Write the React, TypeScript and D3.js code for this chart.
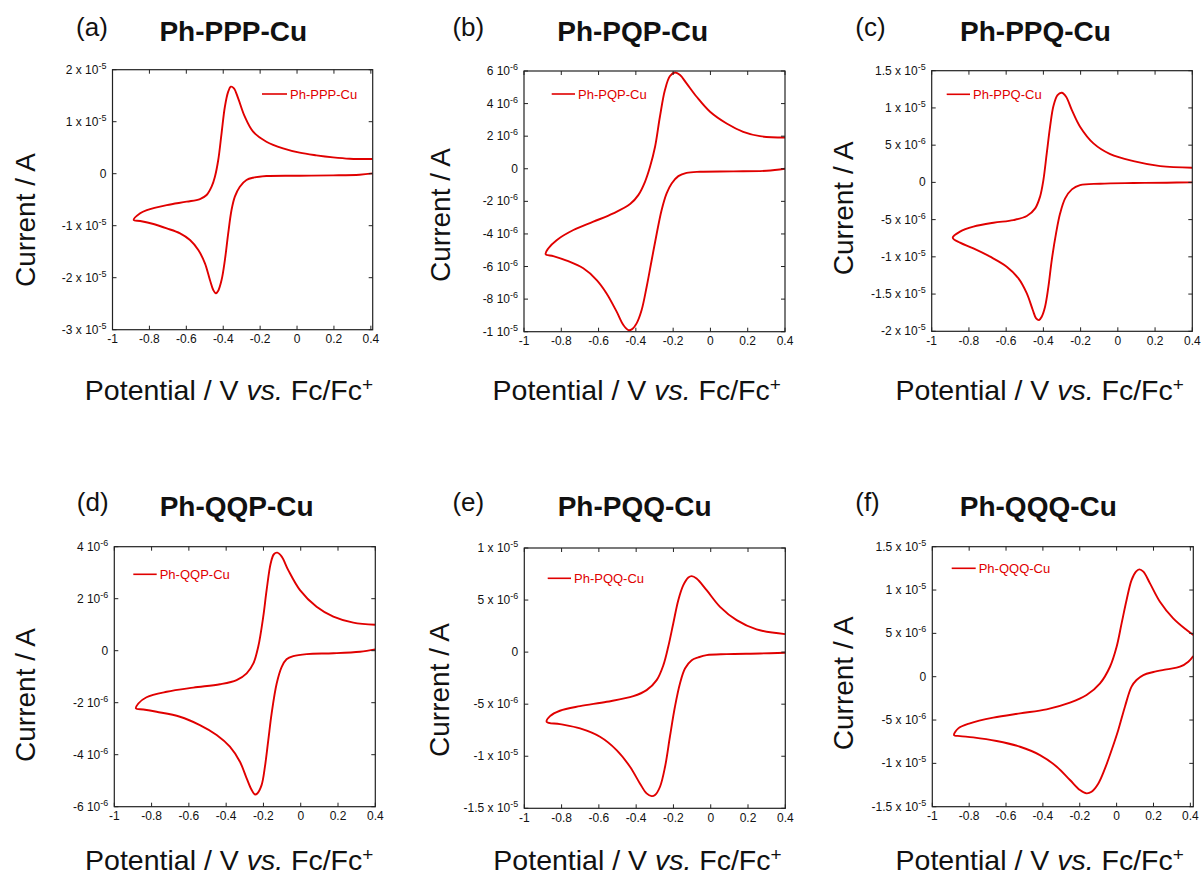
import React from 'react';
import * as d3 from 'd3';

// ---------- shared axis data ----------
const X_TICKS = [-1, -0.8, -0.6, -0.4, -0.2, 0, 0.2, 0.4];
const X_TICK_LABELS = ['-1', '-0.8', '-0.6', '-0.4', '-0.2', '0', '0.2', '0.4'];

// ---------- (a) Ph-PPP-Cu  (current in µA) ----------
const PPP_CATHODIC: [number, number][] = [
  [0.41, 0.06], [0.339, -0.19], [0.195, -0.32], [0.014, -0.38], [-0.166, -0.45], [-0.238, -0.77],
  [-0.274, -1.22], [-0.31, -2.5], [-0.337, -4.42], [-0.355, -6.99], [-0.373, -11.47], [-0.391, -16.6],
  [-0.409, -20.45], [-0.427, -22.5], [-0.44, -23.0], [-0.454, -22.37], [-0.472, -20.45], [-0.499, -17.24],
  [-0.535, -14.68], [-0.58, -12.76], [-0.634, -11.47], [-0.706, -10.51], [-0.778, -9.68], [-0.85, -9.1],
  [-0.885, -8.9],
];
const PPP_ANODIC: [number, number][] = [
  [-0.885, -8.9], [-0.85, -7.6], [-0.814, -6.99], [-0.706, -6.03], [-0.598, -5.38], [-0.526, -4.87],
  [-0.49, -4.1], [-0.463, -2.5], [-0.445, -0.58], [-0.427, 2.63], [-0.409, 7.76], [-0.391, 12.88],
  [-0.373, 15.77], [-0.359, 16.73], [-0.342, 16.41], [-0.319, 14.49], [-0.283, 10.96], [-0.238, 8.08],
  [-0.166, 6.15], [-0.076, 4.87], [0.014, 4.04], [0.105, 3.53], [0.195, 3.14], [0.285, 2.88], [0.41, 2.82],
];
const PPP_Y_TICKS = [20, 10, 0, -10, -20, -30];
const PPP_Y_LABELS: [string, string][] = [
  ['2 x 10', '-5'], ['1 x 10', '-5'], ['0', ''], ['-1 x 10', '-5'], ['-2 x 10', '-5'], ['-3 x 10', '-5'],
];

// ---------- (b) Ph-PQP-Cu ----------
const PQP_CATHODIC: [number, number][] = [
  [0.4, 0], [0.302, -0.12], [0.123, -0.16], [-0.056, -0.18], [-0.128, -0.25], [-0.172, -0.45],
  [-0.208, -0.9], [-0.235, -1.51], [-0.262, -2.54], [-0.288, -3.97], [-0.315, -5.6], [-0.342, -7.24],
  [-0.369, -8.67], [-0.396, -9.49], [-0.422, -9.86], [-0.44, -9.9], [-0.467, -9.59], [-0.503, -8.77],
  [-0.557, -7.65], [-0.61, -6.83], [-0.682, -6.11], [-0.771, -5.64], [-0.843, -5.36], [-0.884, -5.24],
];
const PQP_ANODIC: [number, number][] = [
  [-0.884, -5.24], [-0.87, -4.89], [-0.825, -4.38], [-0.735, -3.76], [-0.628, -3.25], [-0.521, -2.74],
  [-0.431, -2.17], [-0.387, -1.62], [-0.351, -0.8], [-0.324, 0.12], [-0.297, 1.35], [-0.271, 3.19],
  [-0.244, 4.83], [-0.217, 5.69], [-0.19, 5.91], [-0.163, 5.75], [-0.128, 5.24], [-0.074, 4.42],
  [-0.002, 3.5], [0.087, 2.78], [0.176, 2.27], [0.266, 2.0], [0.4, 1.92],
];
const PQP_Y_TICKS = [6, 4, 2, 0, -2, -4, -6, -8, -10];
const PQP_Y_LABELS: [string, string][] = [
  ['6 10', '-6'], ['4 10', '-6'], ['2 10', '-6'], ['0', ''], ['-2 10', '-6'], ['-4 10', '-6'],
  ['-6 10', '-6'], ['-8 10', '-6'], ['-1 10', '-5'],
];

// ---------- (c) Ph-PPQ-Cu ----------
const PPQ_CATHODIC: [number, number][] = [
  [0.4, 0], [0.263, -0.04], [0.084, -0.09], [-0.095, -0.18], [-0.203, -0.36], [-0.247, -0.94],
  [-0.283, -2.15], [-0.31, -4.16], [-0.332, -6.85], [-0.355, -10.43], [-0.373, -14.01], [-0.391, -16.7],
  [-0.409, -18.04], [-0.423, -18.49], [-0.439, -18.26], [-0.457, -17.14], [-0.489, -14.91], [-0.534, -12.89],
  [-0.597, -11.32], [-0.686, -9.98], [-0.776, -8.86], [-0.848, -8.1], [-0.887, -7.43],
];
const PPQ_ANODIC: [number, number][] = [
  [-0.887, -7.43], [-0.848, -6.62], [-0.776, -5.95], [-0.668, -5.42], [-0.561, -5.06], [-0.489, -4.52],
  [-0.444, -3.49], [-0.418, -1.92], [-0.4, 0.31], [-0.382, 3.89], [-0.364, 7.48], [-0.346, 10.25],
  [-0.324, 11.73], [-0.301, 12.04], [-0.278, 11.5], [-0.247, 9.71], [-0.203, 7.48], [-0.131, 5.24],
  [-0.041, 3.8], [0.084, 2.86], [0.228, 2.19], [0.4, 1.97],
];
const PPQ_Y_TICKS = [15, 10, 5, 0, -5, -10, -15, -20];
const PPQ_Y_LABELS: [string, string][] = [
  ['1.5 x 10', '-5'], ['1 x 10', '-5'], ['5 x 10', '-6'], ['0', ''], ['-5 x 10', '-6'],
  ['-1 x 10', '-5'], ['-1.5 x 10', '-5'], ['-2 x 10', '-5'],
];

// ---------- (d) Ph-QQP-Cu ----------
const QQP_CATHODIC: [number, number][] = [
  [0.4, 0.05], [0.318, -0.04], [0.175, -0.1], [0.032, -0.13], [-0.04, -0.21], [-0.076, -0.33],
  [-0.102, -0.62], [-0.129, -1.26], [-0.156, -2.41], [-0.174, -3.44], [-0.192, -4.46], [-0.21, -5.17],
  [-0.233, -5.49], [-0.245, -5.53], [-0.263, -5.36], [-0.29, -4.91], [-0.326, -4.27], [-0.38, -3.69],
  [-0.451, -3.24], [-0.541, -2.86], [-0.648, -2.54], [-0.773, -2.35], [-0.844, -2.26], [-0.884, -2.22],
];
const QQP_ANODIC: [number, number][] = [
  [-0.884, -2.22], [-0.871, -2.03], [-0.827, -1.79], [-0.719, -1.58], [-0.576, -1.42], [-0.433, -1.29],
  [-0.344, -1.13], [-0.29, -0.87], [-0.254, -0.49], [-0.228, 0.15], [-0.201, 1.31], [-0.183, 2.33],
  [-0.161, 3.36], [-0.144, 3.71], [-0.126, 3.77], [-0.102, 3.62], [-0.067, 3.1], [-0.004, 2.33],
  [0.085, 1.69], [0.175, 1.31], [0.282, 1.08], [0.4, 1.0],
];
const QQP_Y_TICKS = [4, 2, 0, -2, -4, -6];
const QQP_Y_LABELS: [string, string][] = [
  ['4 10', '-6'], ['2 10', '-6'], ['0', ''], ['-2 10', '-6'], ['-4 10', '-6'], ['-6 10', '-6'],
];

// ---------- (e) Ph-PQQ-Cu ----------
const PQQ_CATHODIC: [number, number][] = [
  [0.4, -0.06], [0.264, -0.13], [0.085, -0.19], [-0.022, -0.29], [-0.067, -0.51], [-0.102, -0.77],
  [-0.138, -1.57], [-0.165, -3.01], [-0.192, -5.25], [-0.219, -8.13], [-0.245, -11.01], [-0.272, -12.93],
  [-0.299, -13.73], [-0.317, -13.83], [-0.344, -13.57], [-0.38, -12.61], [-0.433, -11.01], [-0.505, -9.41],
  [-0.594, -8.13], [-0.701, -7.33], [-0.809, -6.91], [-0.88, -6.69],
];
const PQQ_ANODIC: [number, number][] = [
  [-0.88, -6.69], [-0.862, -6.15], [-0.809, -5.63], [-0.701, -5.19], [-0.558, -4.77], [-0.415, -4.23],
  [-0.344, -3.65], [-0.29, -2.69], [-0.254, -1.25], [-0.228, 0.51], [-0.201, 2.75], [-0.174, 4.99],
  [-0.147, 6.43], [-0.12, 7.17], [-0.102, 7.3], [-0.076, 7.07], [-0.022, 5.95], [0.05, 4.35],
  [0.139, 3.07], [0.246, 2.18], [0.4, 1.73],
];
const PQQ_Y_TICKS = [10, 5, 0, -5, -10, -15];
const PQQ_Y_LABELS: [string, string][] = [
  ['1 x 10', '-5'], ['5 x 10', '-6'], ['0', ''], ['-5 x 10', '-6'], ['-1 x 10', '-5'], ['-1.5 x 10', '-5'],
];

// ---------- (f) Ph-QQQ-Cu ----------
const QQQ_CATHODIC: [number, number][] = [
  [0.416, 2.38], [0.389, 1.73], [0.344, 1.15], [0.271, 0.85], [0.199, 0.54], [0.145, 0.19],
  [0.108, -0.38], [0.081, -1.15], [0.045, -3.46], [0.009, -6.15], [-0.027, -8.46], [-0.063, -10.58],
  [-0.099, -12.31], [-0.136, -13.27], [-0.163, -13.46], [-0.199, -13.08], [-0.253, -11.92], [-0.325, -10.38],
  [-0.416, -9.04], [-0.524, -8.08], [-0.651, -7.42], [-0.778, -7.0], [-0.85, -6.85], [-0.882, -6.73],
];
const QQQ_ANODIC: [number, number][] = [
  [-0.882, -6.73], [-0.859, -5.96], [-0.796, -5.38], [-0.669, -4.73], [-0.524, -4.23], [-0.38, -3.77],
  [-0.253, -3.0], [-0.163, -2.12], [-0.09, -0.77], [-0.036, 1.15], [0.0, 3.46], [0.027, 6.15],
  [0.054, 8.85], [0.081, 11.15], [0.105, 12.12], [0.123, 12.38], [0.145, 12.12], [0.181, 10.77],
  [0.235, 8.65], [0.307, 6.73], [0.38, 5.38], [0.416, 4.81],
];
const QQQ_Y_TICKS = [15, 10, 5, 0, -5, -10, -15];
const QQQ_Y_LABELS: [string, string][] = [
  ['1.5 x 10', '-5'], ['1 x 10', '-5'], ['5 x 10', '-6'], ['0', ''], ['-5 x 10', '-6'],
  ['-1 x 10', '-5'], ['-1.5 x 10', '-5'],
];

const TAGS = ['(a)', '(b)', '(c)', '(d)', '(e)', '(f)'];
const TITLES = ['Ph-PPP-Cu', 'Ph-PQP-Cu', 'Ph-PPQ-Cu', 'Ph-QQP-Cu', 'Ph-PQQ-Cu', 'Ph-QQQ-Cu'];
const Y_DOMAINS: [number, number][] = [[-30, 20], [-10, 6], [-20, 15], [-6, 4], [-15, 10], [-15, 15]];
const X_MAX = [0.41, 0.4, 0.4, 0.4, 0.4, 0.416];

// ---------- layout (pixels) ----------
const LAYOUT = [
  { x: 112.5, y: 69.7, w: 260.2, h: 260, tag: [92, 36], title: [233.3, 40.7], yLab: [35, 220], xLab: [229, 400], leg: [262, 287, 94] },
  { x: 524, y: 71, w: 261, h: 260.7, tag: [468.3, 36], title: [632.7, 40.7], yLab: [450, 215], xLab: [636.7, 400], leg: [551.7, 575, 94] },
  { x: 931.7, y: 70.7, w: 260.6, h: 260.6, tag: [870.5, 36], title: [1035.5, 40.7], yLab: [852.5, 208.3], xLab: [1039.7, 400], leg: [946.7, 970, 94.3] },
  { x: 114.3, y: 546.7, w: 261, h: 260, tag: [92.7, 511], title: [236.7, 516], yLab: [35, 695], xLab: [229.2, 870], leg: [133.3, 156.7, 574.3] },
  { x: 524.3, y: 548, w: 261, h: 260.3, tag: [468.3, 511], title: [634.7, 516], yLab: [449.3, 690], xLab: [637.5, 870], leg: [547.7, 571, 578.3] },
  { x: 932.3, y: 546.7, w: 261, h: 260, tag: [867.5, 511], title: [1038.3, 516], yLab: [852.5, 683.3], xLab: [1039.7, 870], leg: [951.7, 975.7, 568.3] },
];

const PANEL_DATA = [
  { cath: PPP_CATHODIC, an: PPP_ANODIC, yTicks: PPP_Y_TICKS, yLabels: PPP_Y_LABELS },
  { cath: PQP_CATHODIC, an: PQP_ANODIC, yTicks: PQP_Y_TICKS, yLabels: PQP_Y_LABELS },
  { cath: PPQ_CATHODIC, an: PPQ_ANODIC, yTicks: PPQ_Y_TICKS, yLabels: PPQ_Y_LABELS },
  { cath: QQP_CATHODIC, an: QQP_ANODIC, yTicks: QQP_Y_TICKS, yLabels: QQP_Y_LABELS },
  { cath: PQQ_CATHODIC, an: PQQ_ANODIC, yTicks: PQQ_Y_TICKS, yLabels: PQQ_Y_LABELS },
  { cath: QQQ_CATHODIC, an: QQQ_ANODIC, yTicks: QQQ_Y_TICKS, yLabels: QQQ_Y_LABELS },
];

const FONT = '"Liberation Sans", Arial, Helvetica, sans-serif';
const RED = '#e00000';
const AXIS = '#222';
const TICK = 4;

function Panel({ i }: { i: number }) {
  const L = LAYOUT[i];
  const D = PANEL_DATA[i];
  const x = d3.scaleLinear().domain([-1, X_MAX[i]]).range([L.x, L.x + L.w]);
  const y = d3.scaleLinear().domain(Y_DOMAINS[i]).range([L.y + L.h, L.y]);
  const pts = D.cath.concat(D.an.slice(1));
  const line = d3
    .line<[number, number]>()
    .x((d) => x(d[0]))
    .y((d) => y(d[1]))
    .curve(d3.curveCatmullRom.alpha(0.5));
  const clipId = `clip-${i}`;
  const bottom = L.y + L.h;
  const right = L.x + L.w;
  return (
    <g>
      <defs>
        <clipPath id={clipId}>
          <rect x={L.x} y={L.y} width={L.w} height={L.h} />
        </clipPath>
      </defs>
      {/* tag and title */}
      <text x={L.tag[0]} y={L.tag[1]} fontSize={26} textAnchor="middle" fontFamily={FONT} fill="#111">
        {TAGS[i]}
      </text>
      <text x={L.title[0]} y={L.title[1]} fontSize={28} fontWeight="bold" textAnchor="middle" fontFamily={FONT} fill="#111">
        {TITLES[i]}
      </text>
      {/* y label */}
      <text
        transform={`translate(${L.yLab[0]},${L.yLab[1]}) rotate(-90)`}
        fontSize={28}
        textAnchor="middle"
        fontFamily={FONT}
        fill="#111"
      >
        Current / A
      </text>
      {/* x label */}
      <text x={L.xLab[0]} y={L.xLab[1]} fontSize={28.5} textAnchor="middle" fontFamily={FONT} fill="#111">
        <tspan>Potential / V </tspan>
        <tspan fontStyle="italic">vs.</tspan>
        <tspan> Fc/Fc</tspan>
        <tspan fontSize={19} dy={-9}>+</tspan>
      </text>
      {/* curve */}
      <path d={line(pts) || ''} fill="none" stroke={RED} strokeWidth={1.9} clipPath={`url(#${clipId})`} strokeLinejoin="round" />
      {/* frame */}
      <rect x={L.x} y={L.y} width={L.w} height={L.h} fill="none" stroke={AXIS} strokeWidth={1.2} />
      {/* x ticks */}
      {X_TICKS.map((t, k) => (
        <g key={`xt${k}`}>
          <line x1={x(t)} x2={x(t)} y1={bottom} y2={bottom - TICK} stroke={AXIS} strokeWidth={1} />
          <line x1={x(t)} x2={x(t)} y1={L.y} y2={L.y + TICK} stroke={AXIS} strokeWidth={1} />
          <text x={x(t)} y={bottom + 13.5} fontSize={12} textAnchor="middle" fontFamily={FONT} fill="#111">
            {X_TICK_LABELS[k]}
          </text>
        </g>
      ))}
      {/* y ticks */}
      {D.yTicks.map((t, k) => (
        <g key={`yt${k}`}>
          <line x1={L.x} x2={L.x + TICK} y1={y(t)} y2={y(t)} stroke={AXIS} strokeWidth={1} />
          <line x1={right} x2={right - TICK} y1={y(t)} y2={y(t)} stroke={AXIS} strokeWidth={1} />
          <text x={L.x - 6} y={y(t) + 4} fontSize={12} textAnchor="end" fontFamily={FONT} fill="#111">
            <tspan>{D.yLabels[k][0]}</tspan>
            {D.yLabels[k][1] ? (
              <tspan fontSize={9} dy={-5}>
                {D.yLabels[k][1]}
              </tspan>
            ) : null}
          </text>
        </g>
      ))}
      {/* legend */}
      <line x1={L.leg[0]} x2={L.leg[1]} y1={L.leg[2]} y2={L.leg[2]} stroke={RED} strokeWidth={1.6} />
      <text x={L.leg[1] + 3} y={L.leg[2] + 4.5} fontSize={13} fontFamily={FONT} fill={RED}>
        {TITLES[i]}
      </text>
    </g>
  );
}

export default function App() {
  return (
    <svg
      width={1201}
      height={878}
      style={{ position: 'absolute', left: 0, top: 0, background: '#fff' }}
    >
      <rect x={0} y={0} width={1201} height={878} fill="#fff" />
      {LAYOUT.map((_, i) => (
        <Panel key={i} i={i} />
      ))}
    </svg>
  );
}
